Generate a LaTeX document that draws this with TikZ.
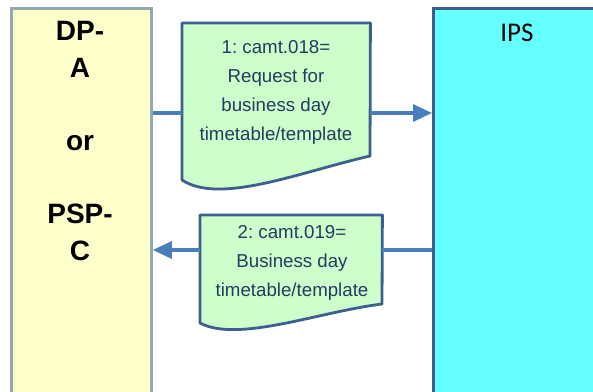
\documentclass[tikz,border=0pt]{standalone}
\usepackage{fontspec}
\setmainfont{Liberation Sans}
\newfontfamily\carlito{Carlito}
\usetikzlibrary{arrows.meta}
\definecolor{lfill}{HTML}{FFFFCC}
\definecolor{ldraw}{HTML}{93A9B1}
\definecolor{ifill}{HTML}{66FFFF}
\definecolor{idraw}{HTML}{3C5F8E}
\definecolor{dfill}{HTML}{CCFFCC}
\definecolor{dtext}{HTML}{253C5C}
\definecolor{arr}{HTML}{4A7EBB}
\tikzset{
  lane/.style={rectangle, inner sep=0pt, anchor=north west},
  docarea/.style={rectangle, inner sep=0pt, anchor=north west},
  doctext/.style={align=center, text=dtext, inner sep=0pt, font=\frenchspacing\fontsize{18.7}{29}\selectfont},
  docshape/.style={fill=dfill, draw=idraw, line width=2.8pt, line join=round},
  msg/.style={draw=arr, line width=3.2pt},
  msgtip/.style={draw=arr, line width=3.2pt, -{Triangle[length=19pt,width=17pt]}}
}
\begin{document}
\frenchspacing
\begin{tikzpicture}[x=1pt,y=-1pt]
\useasboundingbox (0,0) rectangle (593,391);
\clip (0,0) rectangle (593,391);
\fill[white] (0,0) rectangle (593,391);
% lanes
\node[lane, fill=lfill, draw=ldraw, line width=2.8pt, minimum width=140pt, minimum height=420pt] (L) at (10,7) {};
\node[lane, fill=ifill, draw=idraw, line width=3.2pt, minimum width=200pt, minimum height=420pt] (I) at (432,7) {};
\node[align=center, inner sep=0pt, font=\bfseries\fontsize{28}{36.6}\selectfont] (Lt) at (80,141) {DP-\\A\\ \\or\\ \\PSP-\\C};
\node[inner sep=0pt, font=\carlito\fontsize{27}{32}\selectfont] (It) at (517,33) {IPS};
% document 1
\node[docarea, minimum width=188pt, minimum height=165pt] (d1) at (182,23) {};
\draw[docshape] (d1.north west) -- (d1.north east) -- (370,156)
  .. controls (300,172) and (220,205) .. (182,180) -- cycle;
\node[doctext] (t1) at (276,92) {1: camt.018=\\Request for\\business day\\timetable/template};
% document 2
\node[docarea, minimum width=182pt, minimum height=110pt] (d2) at (200,215) {};
\draw[docshape] (d2.north west) -- (d2.north east) -- (382,304)
  .. controls (318,312) and (238,343) .. (200,323) -- cycle;
\node[doctext] (t2) at (292,263) {2: camt.019=\\Business day\\timetable/template};
% connectors
\coordinate (y1) at (0,113);
\coordinate (y2) at (0,250);
\draw[msg] (L.east |- y1) -- (d1.west |- y1);
\draw[msgtip] (d1.east |- y1) -- (I.west |- y1);
\draw[msg] (I.west |- y2) -- (d2.east |- y2);
\draw[msgtip] (d2.west |- y2) -- (L.east |- y2);
\end{tikzpicture}
\end{document}
